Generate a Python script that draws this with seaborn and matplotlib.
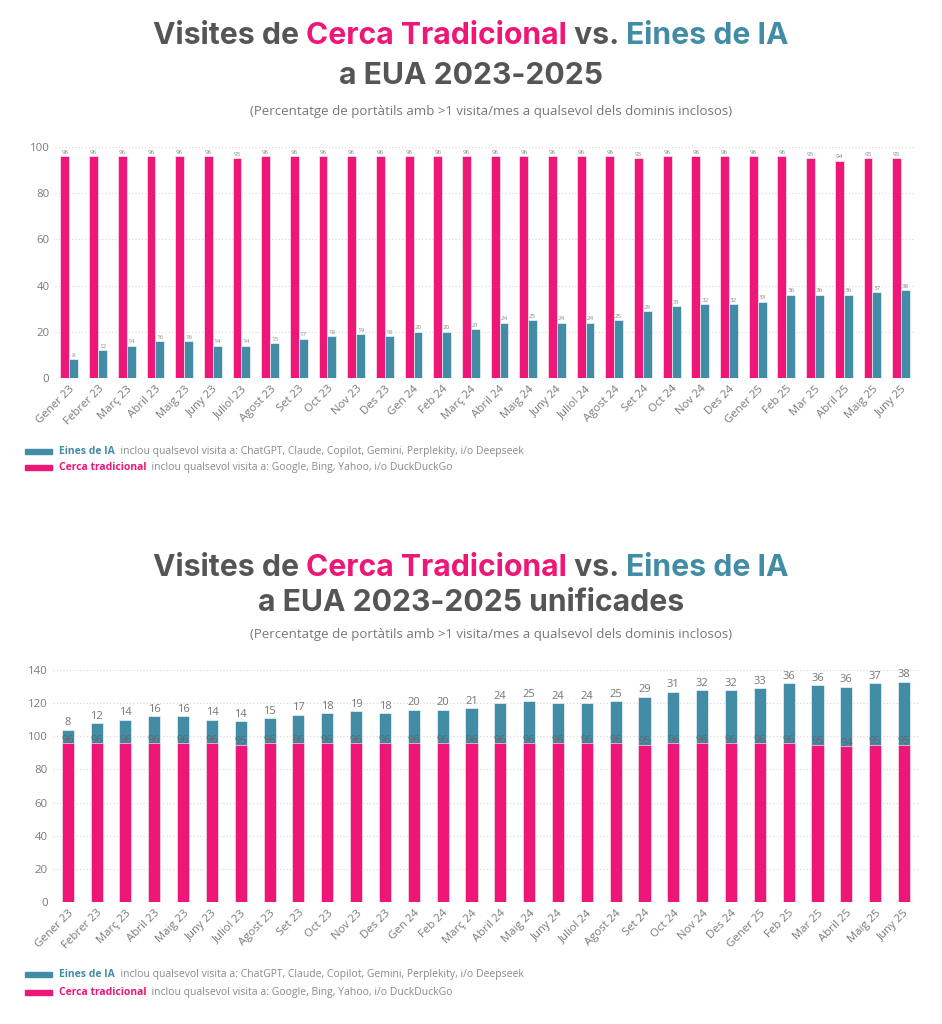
import numpy as np
import pandas as pd
import matplotlib
matplotlib.use("Agg")
import matplotlib.pyplot as plt
from matplotlib.patches import Rectangle
import seaborn as sns

MESOS = ["Gener 23", "Febrer 23", "Març 23", "Abril 23", "Maig 23", "Juny 23",
         "Juliol 23", "Agost 23", "Set 23", "Oct 23", "Nov 23", "Des 23",
         "Gen 24", "Feb 24", "Març 24", "Abril 24", "Maig 24", "Juny 24",
         "Juliol 24", "Agost 24", "Set 24", "Oct 24", "Nov 24", "Des 24",
         "Gener 25", "Feb 25", "Mar 25", "Abril 25", "Maig 25", "Juny 25"]
CERCA = [96, 96, 96, 96, 96, 96, 95, 96, 96, 96, 96, 96, 96, 96, 96,
         96, 96, 96, 96, 96, 95, 96, 96, 96, 96, 96, 95, 94, 95, 95]
EINES_IA = [8, 12, 14, 16, 16, 14, 14, 15, 17, 18, 19, 18, 20, 20, 21,
            24, 25, 24, 24, 25, 29, 31, 32, 32, 33, 36, 36, 36, 37, 38]

ROSA = "#EE1676"
BLAU = "#438CA5"
GRIS_TITOL = "#555555"
GRIS = "#8a8a8a"

sns.set_theme(style="white")
plt.rcParams["font.family"] = ["Open Sans", "DejaVu Sans"]

fig = plt.figure(figsize=(9.42, 10.24), dpi=100)
renderer = fig.canvas.get_renderer()


def text_segments(y, segments, size, weight="normal", family="Open Sans", x0=None):
    """Draw a row of coloured text pieces; centred unless x0 is given."""
    texts = []
    for s, c in segments:
        t = fig.text(0, y, s, color=c, fontsize=size, fontweight=weight,
                     family=family, va="center", ha="left")
        texts.append(t)
    widths = [t.get_window_extent(renderer).width / fig.bbox.width for t in texts]
    x = 0.5 - sum(widths) / 2 if x0 is None else x0
    for t, w in zip(texts, widths):
        t.set_x(x)
        x += w


def titol(y1, y2, y3, linia2):
    text_segments(y1, [("Visites de ", GRIS_TITOL), ("Cerca Tradicional", ROSA),
                       (" vs. ", GRIS_TITOL), ("Eines de IA", BLAU)],
                  21.7, "bold", "Inter")
    text_segments(y2, [(linia2, GRIS_TITOL)], 21.7, "bold", "Inter")
    fig.text(491.5 / 942, y3, "(Percentatge de portàtils amb >1 visita/mes a qualsevol dels dominis inclosos)",
             ha="center", va="center", fontsize=9.5, color="#777777")


def llegenda(y1, y2, size=7.5):
    for y, col, nom, desc in [
        (y1, BLAU, "Eines de IA", "  inclou qualsevol visita a: ChatGPT, Claude, Copilot, Gemini, Perplekity, i/o Deepseek"),
        (y2, ROSA, "Cerca tradicional", "  inclou qualsevol visita a: Google, Bing, Yahoo, i/o DuckDuckGo"),
    ]:
        fig.patches.append(Rectangle((25 / 942, y - 2.5 / 1024), 27 / 942, 5 / 1024,
                                     transform=fig.transFigure, color=col))
        text_segments(y, [(nom, col)], size, "bold", x0=59 / 942)
        w = fig.texts[-1].get_window_extent(renderer).width / fig.bbox.width
        fig.text(59 / 942 + w, y, desc, fontsize=size, color=GRIS, va="center", ha="left")


def estil_eixos(ax, ymax):
    ax.set_ylim(0, ymax)
    ax.set_yticks(range(0, ymax + 1, 20))
    ax.set_xlabel("")
    ax.set_ylabel("")
    sns.despine(ax=ax, left=True, bottom=True)
    ax.yaxis.grid(True, linestyle=(0, (1, 2)), color="#d8d8d8", linewidth=0.8)
    ax.set_axisbelow(True)
    ax.tick_params(length=0, labelsize=8.2, labelcolor="#7a7a7a", pad=4)
    plt.setp(ax.get_xticklabels(), rotation=45, ha="right", rotation_mode="anchor")


# --- Gràfic 1: barres agrupades ---
titol(0.9648, 0.9258, 0.8916, "a EUA 2023-2025")
df = pd.DataFrame({
    "mes": MESOS * 2,
    "valor": CERCA + EINES_IA,
    "serie": ["Cerca tradicional"] * len(MESOS) + ["Eines de IA"] * len(MESOS),
})
ax1 = fig.add_axes([0.0584, 0.6309, 0.9134, 0.2256])
sns.barplot(data=df, x="mes", y="valor", hue="serie", order=MESOS,
            palette={"Cerca tradicional": ROSA, "Eines de IA": BLAU},
            width=0.62, saturation=1, edgecolor="white", linewidth=0.4,
            legend=False, ax=ax1)
for cont in ax1.containers:
    ax1.bar_label(cont, fmt="%d", fontsize=4.5, color="#888888", padding=1)
estil_eixos(ax1, 100)
ax1.set_xlim(-0.5, len(MESOS) - 0.5)
llegenda(0.5586, 0.5430)

# --- Gràfic 2: barres apilades ---
titol(0.4453, 0.4111, 0.3799, "a EUA 2023-2025 unificades")
total = [c + e for c, e in zip(CERCA, EINES_IA)]
ax2 = fig.add_axes([0.0566, 0.1191, 0.9184, 0.2266])
sns.barplot(x=MESOS, y=total, color=BLAU, width=0.42, saturation=1,
            edgecolor="white", linewidth=0.4, ax=ax2)
sns.barplot(x=MESOS, y=CERCA, color=ROSA, width=0.42, saturation=1,
            edgecolor="white", linewidth=0.4, ax=ax2)
ax2.bar_label(ax2.containers[0], labels=[str(v) for v in EINES_IA],
              fontsize=8, color="#777777", padding=1)
ax2.bar_label(ax2.containers[1], labels=[str(v) for v in CERCA],
              fontsize=8, color="#5f6a70", padding=-2)
estil_eixos(ax2, 140)
ax2.set_xlim(-0.5, len(MESOS) - 0.5)
llegenda(0.0479, 0.0303)

fig.savefig("out.png", dpi=100, facecolor="white")
